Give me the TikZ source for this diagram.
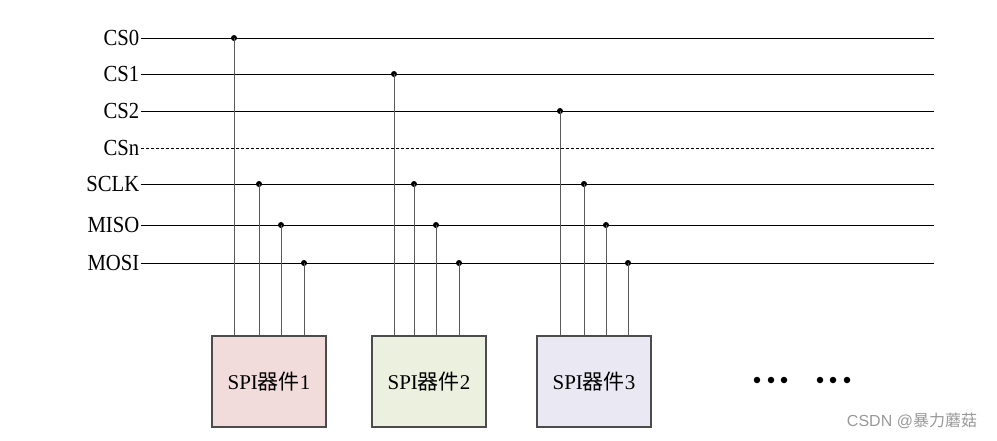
\documentclass[tikz,border=0pt]{standalone}
\usepackage{fontspec}
\setmainfont{Liberation Serif}
\newfontfamily\sigfont[FakeStretch=0.9]{Liberation Serif}
\newfontfamily\cjk{Noto Sans CJK SC}
\newfontfamily\wmark{Liberation Sans}
\usetikzlibrary{positioning}
\definecolor{devone}{HTML}{F2DCDB}
\definecolor{devtwo}{HTML}{EBF1DE}
\definecolor{devthree}{HTML}{EAE8F2}
\tikzset{
  sig/.style={anchor=east,inner sep=1.5pt,font=\sigfont\fontsize{23}{23}\selectfont},
  bus/.style={line width=0.9pt},
  tap/.style={line width=0.9pt,draw=black!65},
  junc/.style={circle,fill=black,inner sep=0pt,minimum size=6pt},
  more/.style={circle,fill=black,inner sep=0pt,minimum size=6.5pt},
  dev/.style={draw=black!70,line width=1.2pt,minimum width=114pt,minimum height=91pt,
    font=\fontsize{21}{21}\selectfont}
}

\begin{document}
\begin{tikzpicture}[x=1pt,y=-1pt]
  \useasboundingbox (0,0) rectangle (997,440);
  % bus lines
  \foreach \name/\y in {CS0/38,CS1/74,CS2/111,SCLK/184,MISO/225,MOSI/263} {
    \node[sig] (l-\name) at (141,\y) {\name};
    \coordinate (e-\name) at (934,\y);
    \draw[bus] (l-\name.east) -- (e-\name);
  }
  \node[sig] (l-CSn) at (141,148) {CSn};
  \coordinate (e-CSn) at (934,148);
  \draw[bus,dashed,dash pattern=on 3pt off 2pt] (l-CSn.east) -- (e-CSn);
  % devices
  \node[dev,fill=devone] (d1) at (269,381.5) {SPI{\cjk 器件}1};
  \node[dev,fill=devtwo] (d2) at (429,381.5) {SPI{\cjk 器件}2};
  \node[dev,fill=devthree] (d3) at (594,381.5) {SPI{\cjk 器件}3};
  % taps
  \foreach \d/\cs/\a/\b/\c/\e in {1/CS0/234/259/281/304,2/CS1/394/414/436/459,3/CS2/560/584/606/628} {
    \node[junc] (j\d-cs) at (\a,0 |- l-\cs) {};
    \node[junc] (j\d-clk) at (\b,0 |- l-SCLK) {};
    \node[junc] (j\d-miso) at (\c,0 |- l-MISO) {};
    \node[junc] (j\d-mosi) at (\e,0 |- l-MOSI) {};
    \foreach \t in {cs,clk,miso,mosi}
      \draw[tap] (j\d-\t.center) -- (j\d-\t.center |- d\d.north);
  }
  % more devices
  \foreach \i/\x in {1/757,2/771,3/784,4/820,5/833,6/847}
    \node[more] (m\i) at (\x,380) {};
  \node[text=black!40,font=\wmark\fontsize{16}{16}\selectfont] (wm) at (912,421) {CSDN @{\cjk 暴力蘑菇}};
\end{tikzpicture}
\end{document}
